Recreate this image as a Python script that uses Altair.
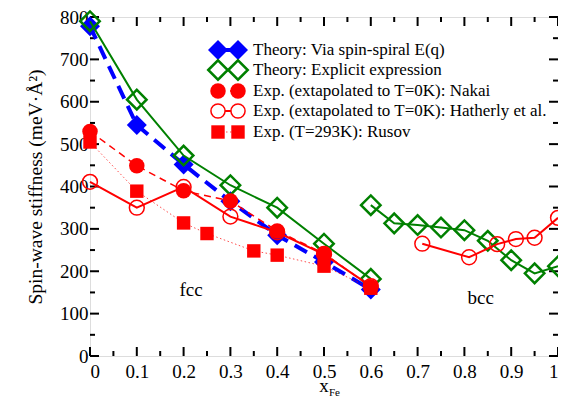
import altair as alt
import pandas as pd

W, H = 468, 339
FONT = "Liberation Serif"
BLUE, GREEN, RED = "#0000ff", "#008000", "#ff0000"

# ---- data ----
blue_x = [0, 0.1, 0.2, 0.3, 0.4, 0.5, 0.6]
blue_y = [778, 545, 452, 365, 285, 222, 157]

green_fcc_x = [0, 0.1, 0.2, 0.3, 0.4, 0.5, 0.6]
green_fcc_y = [790, 605, 473, 403, 350, 265, 182]
green_bcc_x = [0.6, 0.65, 0.7, 0.75, 0.8, 0.85, 0.9, 0.95, 1.0]
green_bcc_y = [356, 313, 309, 303, 297, 272, 226, 195, 212]

nakai_x = [0, 0.1, 0.2, 0.3, 0.4, 0.5, 0.6]
nakai_y = [530, 449, 390, 366, 295, 242, 163]

hath_fcc_x = [0, 0.1, 0.2, 0.3, 0.4, 0.5, 0.6]
hath_fcc_y = [411, 350, 399, 329, 292, 240, 165]
hath_bcc_x = [0.71, 0.81, 0.87, 0.91, 0.95, 1.0]
hath_bcc_y = [265, 233, 264, 276, 279, 326]

rusov_x = [0, 0.1, 0.2, 0.25, 0.35, 0.4, 0.5, 0.6]
rusov_y = [505, 389, 314, 289, 248, 238, 212, 160]

legend_labels = [
    "Theory: Via spin-spiral E(q)",
    "Theory: Explicit expression",
    "Exp. (extapolated to T=0K): Nakai",
    "Exp. (extapolated to T=0K): Hatherly et al.",
    "Exp. (T=293K): Rusov",
]

ann_text = ["fcc", "bcc"]
ann_x = [0.216, 0.835]
ann_y = [156, 137]

x_major = [round(i * 0.1, 2) for i in range(11)]
x_minor = [round(0.05 + i * 0.1, 2) for i in range(10)]
y_major = list(range(0, 801, 100))
y_minor = list(range(50, 800, 100))

xs = alt.Scale(domain=[0, 1], nice=False)
ys = alt.Scale(domain=[0, 800], nice=False)


def frame(xv, yv, seg="a"):
    return pd.DataFrame({"x": xv, "y": yv, "seg": [seg] * len(xv)})


def X():
    return alt.X("x:Q", scale=xs)


def Y():
    return alt.Y("y:Q", scale=ys)


def series(df, color, shape, size, filled, sw_line, dash=None, sw_pt=2, line_opacity=1.0):
    lk = dict(color=color, strokeWidth=sw_line, opacity=line_opacity)
    if dash:
        lk["strokeDash"] = dash
    line = alt.Chart(df).mark_line(**lk).encode(x=X(), y=Y(), detail="seg:N")
    pk = dict(shape=shape, size=size, filled=filled, opacity=1)
    if filled:
        pk.update(fill=color, stroke=None)
    else:
        pk.update(color=color, strokeWidth=sw_pt, fill=None)
    pts = alt.Chart(df).mark_point(**pk).encode(x=X(), y=Y())
    return [line, pts]


layers = []

# base layer with axes
base_df = pd.DataFrame({"x": [0, 1], "y": [0, 800]})
base = alt.Chart(base_df).mark_point(opacity=0).encode(
    x=alt.X("x:Q", scale=xs, axis=alt.Axis(
        values=x_major, format="~g", title=None, ticks=False, tickSize=0, domain=False,
        grid=False, labelFont=FONT, labelFontSize=19, labelColor="black", labelPadding=6)),
    y=alt.Y("y:Q", scale=ys, axis=alt.Axis(
        values=y_major, format="d", title="Spin-wave stiffness  (meV·Å²)", ticks=False,
        tickSize=0, domain=False, grid=False, labelFont=FONT, labelFontSize=19,
        labelColor="black", labelPadding=2, titleFont=FONT, titleFontSize=19.5,
        titleFontWeight="normal", titleColor="black", titlePadding=14)),
)
layers.append(base)

# tick marks (inward, mirrored)
for vals, ln in ((x_major, 9), (x_minor, 5)):
    d = pd.DataFrame({"x": vals})
    layers.append(alt.Chart(d).mark_rule(color="black", strokeWidth=2).encode(
        x=X(), y=alt.value(H), y2=alt.value(H - ln)))
    layers.append(alt.Chart(d).mark_rule(color="black", strokeWidth=2).encode(
        x=X(), y=alt.value(0), y2=alt.value(ln)))
for vals, ln in ((y_major, 9), (y_minor, 5)):
    d = pd.DataFrame({"y": vals})
    layers.append(alt.Chart(d).mark_rule(color="black", strokeWidth=2).encode(
        y=Y(), x=alt.value(0), x2=alt.value(ln)))
    layers.append(alt.Chart(d).mark_rule(color="black", strokeWidth=2).encode(
        y=Y(), x=alt.value(W), x2=alt.value(W - ln)))

# series
layers += series(frame(blue_x, blue_y), BLUE, "diamond", 400, True, 4, dash=[14, 8])
layers += series(pd.concat([frame(green_fcc_x, green_fcc_y, "fcc"),
                            frame(green_bcc_x, green_bcc_y, "bcc")]),
                 GREEN, "diamond", 380, False, 2, sw_pt=2.5)
layers += series(frame(nakai_x, nakai_y), RED, "circle", 240, True, 1.5, dash=[7, 5])
layers += series(pd.concat([frame(hath_fcc_x, hath_fcc_y, "fcc"),
                            frame(hath_bcc_x, hath_bcc_y, "bcc")]),
                 RED, "circle", 220, False, 2, sw_pt=1.5)
layers += series(frame(rusov_x, rusov_y), RED, "square", 180, True, 1, dash=[1.5, 2.5],
                 line_opacity=0.7)

# annotations
ann_df = pd.DataFrame({"x": ann_x, "y": ann_y, "t": ann_text})
layers.append(alt.Chart(ann_df).mark_text(font=FONT, fontSize=19, color="black").encode(
    x=X(), y=Y(), text="t:N"))

# legend (manual)
one = pd.DataFrame({"a": [0]})
leg_y = [33, 53, 74, 94, 115]
leg_styles = [
    (BLUE, "diamond", 400, True, None, 4, 1.0),
    (GREEN, "diamond", 380, False, None, 2, 1.0),
    (RED, "circle", 240, True, [7, 5], 1.5, 1.0),
    (RED, "circle", 200, False, None, 2, 1.0),
    (RED, "square", 180, True, [1.5, 2.5], 1, 0.7),
]
x1, x2, xt = 128, 148, 163
for lab, yy, (col, shp, sz, fl, dash, lw, lo) in zip(legend_labels, leg_y, leg_styles):
    rk = dict(color=col, strokeWidth=lw, opacity=lo)
    if dash:
        rk["strokeDash"] = dash
    layers.append(alt.Chart(one).mark_rule(**rk).encode(
        x=alt.value(x1), x2=alt.value(x2), y=alt.value(yy)))
    for xx in (x1, x2):
        pk = dict(shape=shp, size=sz, filled=fl, opacity=1)
        if fl:
            pk.update(fill=col, stroke=None)
        else:
            pk.update(color=col, strokeWidth=2.5 if shp == "diamond" else 1.5, fill="white")
        layers.append(alt.Chart(one).mark_point(**pk).encode(
            x=alt.value(xx), y=alt.value(yy)))
    layers.append(alt.Chart(one).mark_text(
        font=FONT, fontSize=17, color="black", align="left", baseline="middle").encode(
        x=alt.value(xt), y=alt.value(yy), text=alt.value(lab)))

# x axis title with subscript
layers.append(alt.Chart(one).mark_text(font=FONT, fontSize=19, color="black",
                                        align="center", baseline="alphabetic").encode(
    x=alt.value(234), y=alt.value(375), text=alt.value("x")))
layers.append(alt.Chart(one).mark_text(font=FONT, fontSize=11, color="black",
                                        align="left", baseline="alphabetic").encode(
    x=alt.value(239), y=alt.value(379), text=alt.value("Fe")))

chart = alt.layer(*layers).properties(
    width=W, height=H,
    padding={"left": 82, "top": 9, "right": 0, "bottom": 43},
    autosize=alt.AutoSizeParams(type="none"),
).configure_view(stroke="black", strokeWidth=2).configure(background="white")

chart.save("out.html", embed_options={"renderer": "svg", "actions": False})
